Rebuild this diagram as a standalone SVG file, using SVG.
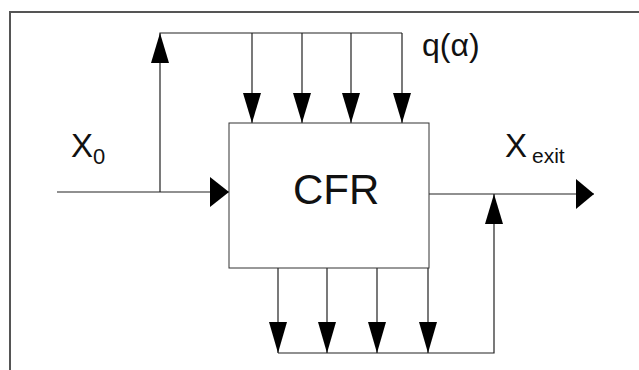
<svg xmlns="http://www.w3.org/2000/svg" width="639" height="370" viewBox="0 0 639 370">
<defs>
<style>
.ln{stroke:#222;stroke-width:1.2;fill:none}
.fr{stroke:#555;stroke-width:2;fill:none}
.ah{fill:#000}
.t{font-family:"Liberation Sans",Arial,sans-serif;fill:#111}
</style>
</defs>
<rect width="639" height="370" fill="#fff"/>
<path class="fr" d="M10,370 V12 H639"/>
<g id="connectors">
<path class="ln" d="M57,192 H229"/>
<path class="ln" d="M160,192 V33 H402"/>
<path class="ln" d="M252,33 V123 M302,33 V123 M351,33 V123 M402,33 V123"/>
<path class="ln" d="M429,194 H594"/>
<path class="ln" d="M278,268 V353 M327,268 V353 M377,268 V353 M428,268 V353"/>
<path class="ln" d="M278,353 H494 V194"/>
<polygon class="ah" points="229,192 210,177 210,207"/>
<polygon class="ah" points="160,33 151,63 169,63"/>
<polygon class="ah" points="252,123 243,93 261,93"/>
<polygon class="ah" points="302,123 293,93 311,93"/>
<polygon class="ah" points="351,123 342,93 360,93"/>
<polygon class="ah" points="402,123 393,93 411,93"/>
<polygon class="ah" points="594,194 576,179 576,209"/>
<polygon class="ah" points="494,194 485,224 503,224"/>
<polygon class="ah" points="278,353 269,322 287,322"/>
<polygon class="ah" points="327,353 318,322 336,322"/>
<polygon class="ah" points="377,353 368,322 386,322"/>
<polygon class="ah" points="428,353 419,322 437,322"/>
</g>
<g id="cfr">
<rect x="229" y="123" width="200" height="145" fill="none" stroke="#333" stroke-width="1"/>
<text class="t" x="293" y="204" font-size="42">CFR</text>
</g>
<g id="x0">
<text class="t" x="71" y="157" font-size="33">X<tspan font-size="22" dy="7">0</tspan></text>
</g>
<g id="q">
<text class="t" x="422" y="56" font-size="32">q(α)</text>
</g>
<g id="xexit">
<text class="t" x="505" y="157" font-size="33">X<tspan font-size="21" dx="5" dy="6">exit</tspan></text>
</g>
</svg>
